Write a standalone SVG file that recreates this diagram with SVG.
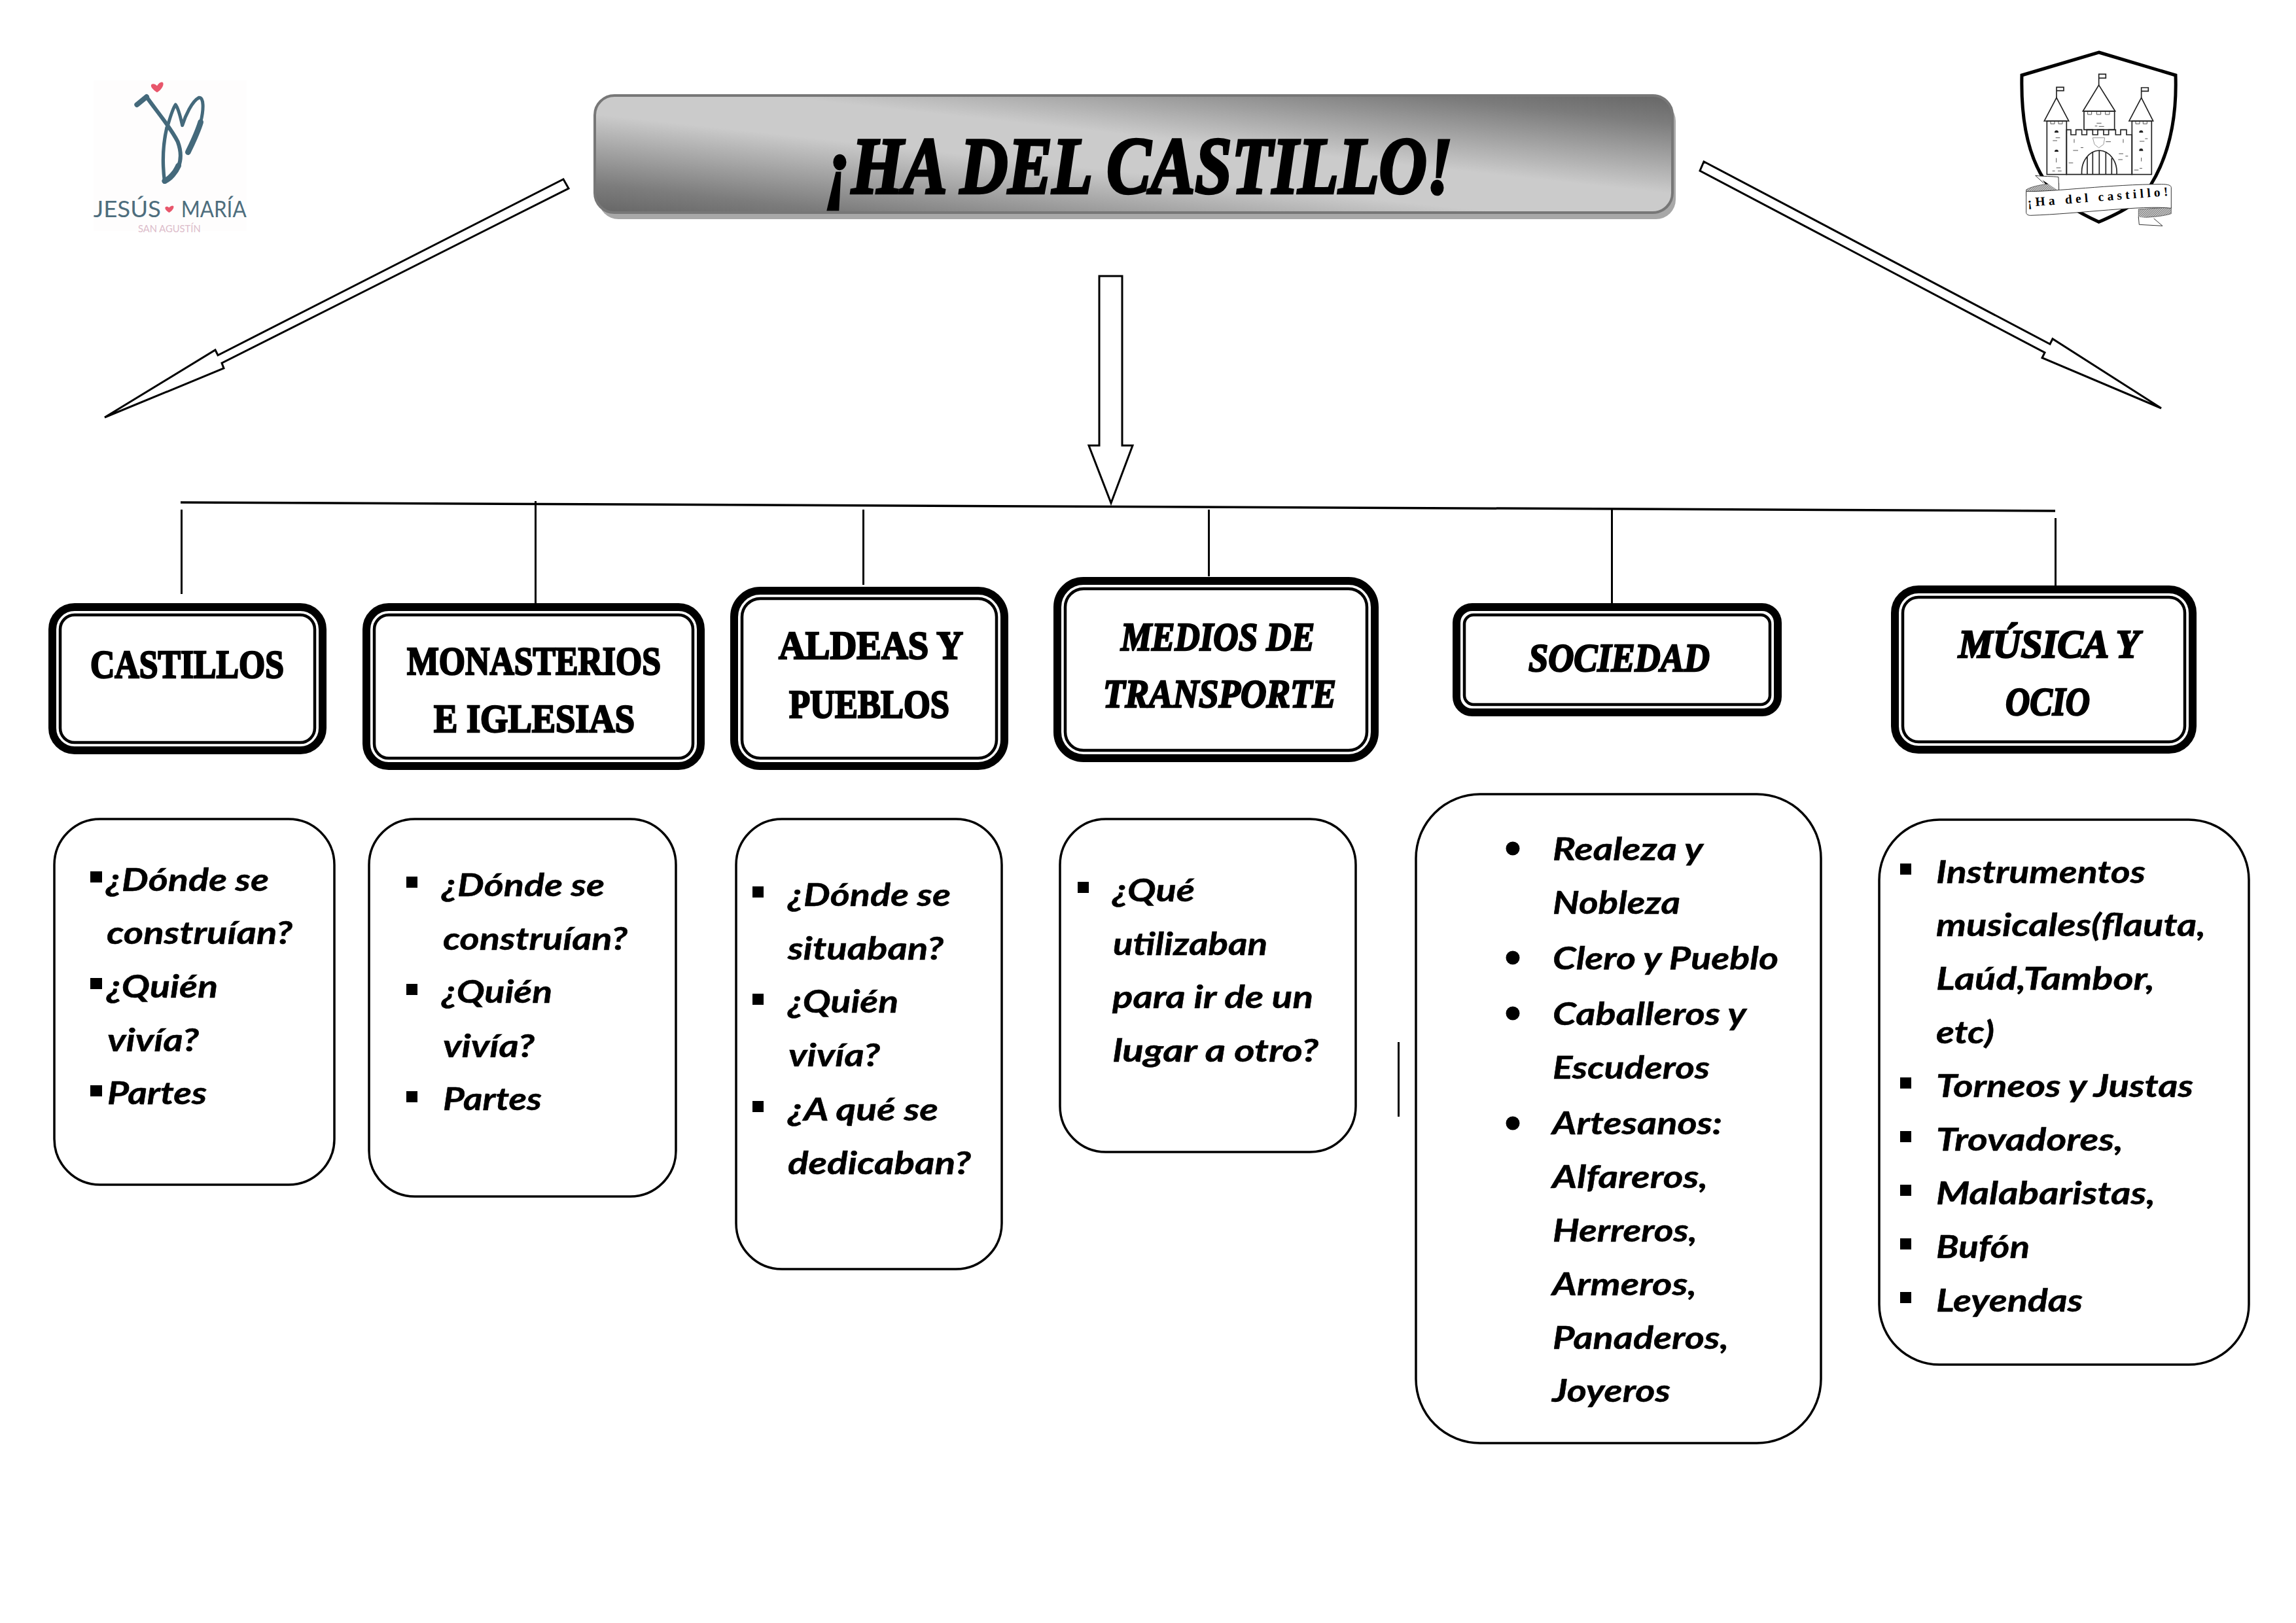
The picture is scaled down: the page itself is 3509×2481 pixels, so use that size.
<svg xmlns="http://www.w3.org/2000/svg" width="3509" height="2481" viewBox="0 0 3509 2481">
<style>
text{fill:#000}
.h{font-family:"Liberation Serif",serif;font-weight:700;font-size:62px;stroke:#000;stroke-width:2.6px}
.hi{font-style:italic}
.t{font-family:"Liberation Serif",serif;font-weight:700;font-style:italic;font-size:122px;stroke:#000;stroke-width:4.5px}
.b{font-family:Lato,"Liberation Sans",sans-serif;font-weight:700;font-style:italic;font-size:47px;stroke:#000;stroke-width:.5px}
.o{fill:#fff;stroke:#000;stroke-width:12px}
.i{fill:none;stroke:#000;stroke-width:4.5px}
.c{fill:#fff;stroke:#000;stroke-width:3.5px}
.l{fill:none;stroke:#000;stroke-width:3px}
.a{fill:#fff;stroke:#000;stroke-width:3px;stroke-linejoin:miter}
.n{fill:none;stroke:#44697b;stroke-linecap:round;stroke-linejoin:round}
.k{fill:none;stroke:#222;stroke-width:5px}
.kk{fill:none;stroke:#555;stroke-width:3px}
</style>
<defs>
<linearGradient id="g" x1="1" y1="0" x2="0" y2="1">
<stop offset="0" stop-color="#666"/><stop offset=".12" stop-color="#7c7c7c"/><stop offset=".42" stop-color="#cbcbcb"/><stop offset=".58" stop-color="#cbcbcb"/><stop offset=".88" stop-color="#7c7c7c"/><stop offset="1" stop-color="#666"/>
</linearGradient>
<pattern id="hatch" width="7" height="7" patternUnits="userSpaceOnUse" patternTransform="rotate(45)"><rect width="7" height="7" fill="#ddd"/><rect width="3.5" height="7" fill="#777"/></pattern>
</defs>
<rect width="3509" height="2481" fill="#fff"/>

<g id="connectors">
<polygon class="a" points="861,274 869,288 339,555 342,563 160,638 329,535 333,543"/>
<polygon class="a" points="1680,422 1715,422 1715,681 1731,681 1698,769 1664,681 1680,681"/>
<polygon class="a" points="2604,247 2598,261 3125,539 3121,547 3303,624 3137,518 3133,526"/>
<line x1="276" y1="768" x2="3141" y2="781" stroke="#000" stroke-width="3.5"/>
<line class="l" x1="277.5" y1="779" x2="277.5" y2="908"/>
<line class="l" x1="818.5" y1="766" x2="818.5" y2="922"/>
<line class="l" x1="1319.5" y1="779" x2="1319.5" y2="894"/>
<line class="l" x1="1847.5" y1="779" x2="1847.5" y2="881"/>
<line class="l" x1="2463.5" y1="779" x2="2463.5" y2="922"/>
<line class="l" x1="3141.5" y1="792" x2="3141.5" y2="895"/>
<line class="l" x1="2137.5" y1="1593" x2="2137.5" y2="1707"/>
</g>

<g id="logo-jesus-maria" transform="translate(80,60) scale(.3333)">
<rect x="190" y="190" width="700" height="690" fill="#fefdfd"/>
<path class="n" stroke-width="24" d="M388,300 L432,264"/>
<path class="n" stroke-width="18" d="M432,264 C470,320 540,400 575,470 C590,510 592,550 578,585"/>
<path class="n" stroke-width="16" d="M525,405 C505,490 505,580 515,655"/>
<path class="n" stroke-width="26" d="M515,650 C540,640 565,610 578,580"/>
<path class="n" stroke-width="15" d="M525,410 C540,360 550,320 565,300 C580,320 588,360 596,395 C610,350 640,285 672,268 C695,265 695,320 680,380"/>
<path class="n" stroke-width="26" d="M680,380 C665,430 640,480 622,518"/>
<path fill="#e8566b" d="M480,244 C462,232 448,218 454,208 C460,202 472,204 480,214 C488,200 502,192 508,200 C512,212 500,232 480,244Z"/>
<path fill="#e8566b" d="M535,795 C524,788 514,778 518,770 C523,765 530,767 535,772 C542,765 552,760 556,766 C558,776 548,788 535,795Z"/>
<text x="188" y="815" font-family="Lato,sans-serif" font-size="104" style="fill:#4d6d7d" textLength="310" lengthAdjust="spacingAndGlyphs">JESÚS</text>
<text x="590" y="815" font-family="Lato,sans-serif" font-size="104" style="fill:#4d6d7d" textLength="300" lengthAdjust="spacingAndGlyphs">MARÍA</text>
<text x="393" y="885" font-family="Lato,sans-serif" font-size="46" style="fill:#dcbcca" textLength="287" lengthAdjust="spacingAndGlyphs">SAN AGUSTÍN</text>
</g>

<g id="logo-castillo" transform="translate(3040,60) scale(.3333)">
<path d="M503,60 L855,165 C862,380 820,540 740,670 C680,760 590,800 503,838 C420,800 320,750 250,640 C180,530 145,380 150,165Z" fill="#fff" stroke="#000" stroke-width="15"/>
<path class="k" d="M355,620 V415 H375 V438 H398 V415 H425 V438 H448 V415 H475 V438 H498 V415 H525 V438 H548 V415 H580 V438 H603 V415 H630 V438 H655 V620Z"/>
<rect class="k" x="435" y="330" width="140" height="85" fill="#fff"/>
<path class="k" d="M430,330 L503,210 L578,330Z"/>
<path class="k" d="M503,210 V160 H535 V178 H503"/>
<rect class="k" x="265" y="375" width="90" height="245"/>
<path class="k" d="M253,375 L309,268 L365,375Z"/>
<path class="k" d="M309,268 V220 H342 V236 H309"/>
<rect class="k" x="655" y="375" width="90" height="245"/>
<path class="k" d="M642,375 L698,268 L752,375Z"/>
<path class="k" d="M698,268 V222 H730 V238 H698"/>
<path class="k" d="M425,620 C420,560 460,510 505,510 C550,510 590,560 585,620M450,540 V620M475,520 V620M505,510 V620M535,520 V620M562,545 V620"/>
<path class="kk" d="M282,378 V388 H300 V378M318,378 V388 H336 V378M452,333 V345 H470 V333M493,333 V345 H512 V333M533,333 V345 H552 V333M672,378 V388 H690 V378M706,378 V388 H724 V378"/>
<path d="M300,427 a9,9 0 0 1 18,0 V428 H300Z M300,515 a9,9 0 0 1 18,0 V516 H300Z M688,427 a9,9 0 0 1 18,0 V428 H688Z M688,510 a9,9 0 0 1 18,0 V512 H688Z" fill="#222"/>
<path class="kk" d="M305,452 H325M292,465 H312M308,590 H328M290,604 H302M315,604 H332M308,545 V565M390,458 V475M615,458 V475M385,510 H408M420,497 H432M365,567 H385M493,385 H515M503,400 H527M485,398 H496M535,470 H558M595,525 H615M592,552 H612M625,536 H637M690,468 H712M715,456 H727M665,600 H685M690,592 H702M698,543 V560"/>
<path d="M475,452 L530,452 L525,482 L503,498 L483,482Z" fill="none" stroke="#999" stroke-width="3"/>
<path d="M170,690 C200,670 280,660 320,660 L320,700 L170,720Z" fill="url(#hatch)" stroke="#333" stroke-width="2"/>
<path d="M212,625 C250,630 290,628 318,632 L320,695 M212,625 L250,660" fill="#fff" stroke="#333" stroke-width="3"/>
<path d="M685,780 L835,770 L835,800 C790,815 730,815 685,820Z" fill="url(#hatch)" stroke="#333" stroke-width="2"/>
<path d="M685,815 L688,850 L795,856 L755,822" fill="#fff" stroke="#333" stroke-width="3"/>
<path d="M170,698 C300,700 560,665 790,665 C820,665 835,670 835,680 L835,775 C700,760 420,800 190,808 C175,808 170,800 170,795Z" fill="#fff" stroke="#333" stroke-width="3"/>
<text x="178" y="768" transform="rotate(-4.5 178 768)" font-family="'Liberation Serif',serif" font-weight="700" font-size="58" textLength="645" lengthAdjust="spacing">¡Ha del castillo!</text>
</g>

<g id="title">
<rect x="915" y="155" width="1646" height="180" rx="30" fill="#a8a8a8"/>
<rect x="909" y="146" width="1647" height="179" rx="30" fill="url(#g)" stroke="#777" stroke-width="4"/>
<text class="t" x="1262" y="295" textLength="958" lengthAdjust="spacingAndGlyphs">¡HA DEL CASTILLO!</text>
</g>

<g id="head-castillos">
<rect class="o" x="80" y="928" width="413" height="219" rx="34"/>
<rect class="i" x="92" y="940" width="389" height="195" rx="22"/>
<text class="h" x="138" y="1036" textLength="296" lengthAdjust="spacingAndGlyphs">CASTILLOS</text>
</g>
<g id="head-monasterios">
<rect class="o" x="560" y="928" width="511" height="243" rx="34"/>
<rect class="i" x="572" y="940" width="487" height="219" rx="22"/>
<text class="h" x="622" y="1031" textLength="388" lengthAdjust="spacingAndGlyphs">MONASTERIOS</text>
<text class="h" x="663" y="1119" textLength="307" lengthAdjust="spacingAndGlyphs">E IGLESIAS</text>
</g>
<g id="head-aldeas">
<rect class="o" x="1122" y="903" width="413" height="268" rx="40"/>
<rect class="i" x="1134" y="915" width="389" height="244" rx="28"/>
<text class="h" x="1190" y="1007" textLength="282" lengthAdjust="spacingAndGlyphs">ALDEAS Y</text>
<text class="h" x="1206" y="1097" textLength="245" lengthAdjust="spacingAndGlyphs">PUEBLOS</text>
</g>
<g id="head-medios">
<rect class="o" x="1616" y="888" width="485" height="271" rx="40"/>
<rect class="i" x="1628" y="900" width="461" height="247" rx="28"/>
<text class="h hi" x="1713" y="994" textLength="296" lengthAdjust="spacingAndGlyphs">MEDIOS DE</text>
<text class="h hi" x="1686" y="1081" textLength="356" lengthAdjust="spacingAndGlyphs">TRANSPORTE</text>
</g>
<g id="head-sociedad">
<rect class="o" x="2226" y="928" width="491" height="161" rx="24"/>
<rect class="i" x="2238" y="940" width="467" height="137" rx="14"/>
<text class="h hi" x="2336" y="1026" textLength="277" lengthAdjust="spacingAndGlyphs">SOCIEDAD</text>
</g>
<g id="head-musica">
<rect class="o" x="2896" y="901" width="455" height="245" rx="36"/>
<rect class="i" x="2908" y="913" width="431" height="221" rx="24"/>
<text class="h hi" x="2993" y="1005" textLength="277" lengthAdjust="spacingAndGlyphs">MÚSICA Y</text>
<text class="h hi" x="3065" y="1093" textLength="129" lengthAdjust="spacingAndGlyphs">OCIO</text>
</g>

<g id="list-castillos">
<rect class="c" x="83" y="1252" width="428" height="559" rx="70"/>
<rect x="138" y="1332" width="18" height="17"/><rect x="138" y="1495" width="18" height="17"/><rect x="138" y="1659" width="18" height="17"/>
<text class="b" x="162" y="1362" textLength="249" lengthAdjust="spacingAndGlyphs">¿Dónde se</text>
<text class="b" x="163" y="1443" textLength="284" lengthAdjust="spacingAndGlyphs">construían?</text>
<text class="b" x="163" y="1525" textLength="170" lengthAdjust="spacingAndGlyphs">¿Quién</text>
<text class="b" x="164" y="1607" textLength="140" lengthAdjust="spacingAndGlyphs">vivía?</text>
<text class="b" x="164" y="1688" textLength="152" lengthAdjust="spacingAndGlyphs">Partes</text>
</g>
<g id="list-monasterios">
<rect class="c" x="564" y="1252" width="469" height="577" rx="70"/>
<rect x="621" y="1340" width="17" height="17"/><rect x="621" y="1504" width="17" height="17"/><rect x="621" y="1668" width="17" height="17"/>
<text class="b" x="675" y="1370" textLength="249" lengthAdjust="spacingAndGlyphs">¿Dónde se</text>
<text class="b" x="677" y="1452" textLength="282" lengthAdjust="spacingAndGlyphs">construían?</text>
<text class="b" x="675" y="1533" textLength="169" lengthAdjust="spacingAndGlyphs">¿Quién</text>
<text class="b" x="677" y="1616" textLength="140" lengthAdjust="spacingAndGlyphs">vivía?</text>
<text class="b" x="677" y="1697" textLength="151" lengthAdjust="spacingAndGlyphs">Partes</text>
</g>
<g id="list-aldeas">
<rect class="c" x="1125" y="1252" width="406" height="688" rx="70"/>
<rect x="1150" y="1355" width="17" height="17"/><rect x="1150" y="1519" width="17" height="17"/><rect x="1150" y="1683" width="17" height="17"/>
<text class="b" x="1204" y="1385" textLength="249" lengthAdjust="spacingAndGlyphs">¿Dónde se</text>
<text class="b" x="1204" y="1467" textLength="238" lengthAdjust="spacingAndGlyphs">situaban?</text>
<text class="b" x="1204" y="1548" textLength="169" lengthAdjust="spacingAndGlyphs">¿Quién</text>
<text class="b" x="1205" y="1630" textLength="140" lengthAdjust="spacingAndGlyphs">vivía?</text>
<text class="b" x="1204" y="1713" textLength="230" lengthAdjust="spacingAndGlyphs">¿A qué se</text>
<text class="b" x="1204" y="1795" textLength="280" lengthAdjust="spacingAndGlyphs">dedicaban?</text>
</g>
<g id="list-medios">
<rect class="c" x="1620" y="1252" width="452" height="509" rx="70"/>
<rect x="1647" y="1348" width="17" height="17"/>
<text class="b" x="1700" y="1378" textLength="126" lengthAdjust="spacingAndGlyphs">¿Qué</text>
<text class="b" x="1701" y="1460" textLength="236" lengthAdjust="spacingAndGlyphs">utilizaban</text>
<text class="b" x="1700" y="1541" textLength="307" lengthAdjust="spacingAndGlyphs">para ir de un</text>
<text class="b" x="1701" y="1623" textLength="314" lengthAdjust="spacingAndGlyphs">lugar a otro?</text>
</g>
<g id="list-sociedad">
<rect class="c" x="2164" y="1214" width="619" height="992" rx="98"/>
<ellipse cx="2312" cy="1297" rx="10.5" ry="10.5"/><ellipse cx="2312" cy="1464" rx="10.5" ry="10.5"/><ellipse cx="2312" cy="1549" rx="10.5" ry="10.5"/><ellipse cx="2312" cy="1717" rx="10.5" ry="10.5"/>
<text class="b" x="2373" y="1315" textLength="230" lengthAdjust="spacingAndGlyphs">Realeza y</text>
<text class="b" x="2373" y="1397" textLength="195" lengthAdjust="spacingAndGlyphs">Nobleza</text>
<text class="b" x="2373" y="1482" textLength="345" lengthAdjust="spacingAndGlyphs">Clero y Pueblo</text>
<text class="b" x="2373" y="1567" textLength="296" lengthAdjust="spacingAndGlyphs">Caballeros y</text>
<text class="b" x="2373" y="1649" textLength="240" lengthAdjust="spacingAndGlyphs">Escuderos</text>
<text class="b" x="2372" y="1734" textLength="260" lengthAdjust="spacingAndGlyphs">Artesanos:</text>
<text class="b" x="2372" y="1816" textLength="238" lengthAdjust="spacingAndGlyphs">Alfareros,</text>
<text class="b" x="2373" y="1898" textLength="221" lengthAdjust="spacingAndGlyphs">Herreros,</text>
<text class="b" x="2372" y="1980" textLength="221" lengthAdjust="spacingAndGlyphs">Armeros,</text>
<text class="b" x="2373" y="2062" textLength="269" lengthAdjust="spacingAndGlyphs">Panaderos,</text>
<text class="b" x="2372" y="2143" textLength="181" lengthAdjust="spacingAndGlyphs">Joyeros</text>
</g>
<g id="list-musica">
<rect class="c" x="2872" y="1253" width="565" height="833" rx="92"/>
<rect x="2904" y="1320" width="17" height="17"/><rect x="2904" y="1647" width="17" height="17"/><rect x="2904" y="1729" width="17" height="17"/><rect x="2904" y="1811" width="17" height="17"/><rect x="2904" y="1893" width="17" height="17"/><rect x="2904" y="1975" width="17" height="17"/>
<text class="b" x="2959" y="1350" textLength="320" lengthAdjust="spacingAndGlyphs">Instrumentos</text>
<text class="b" x="2959" y="1431" textLength="412" lengthAdjust="spacingAndGlyphs">musicales(flauta,</text>
<text class="b" x="2959" y="1513" textLength="334" lengthAdjust="spacingAndGlyphs">Laúd,Tambor,</text>
<text class="b" x="2959" y="1595" textLength="89" lengthAdjust="spacingAndGlyphs">etc)</text>
<text class="b" x="2959" y="1677" textLength="393" lengthAdjust="spacingAndGlyphs">Torneos y Justas</text>
<text class="b" x="2959" y="1759" textLength="286" lengthAdjust="spacingAndGlyphs">Trovadores,</text>
<text class="b" x="2959" y="1841" textLength="335" lengthAdjust="spacingAndGlyphs">Malabaristas,</text>
<text class="b" x="2959" y="1923" textLength="143" lengthAdjust="spacingAndGlyphs">Bufón</text>
<text class="b" x="2959" y="2005" textLength="224" lengthAdjust="spacingAndGlyphs">Leyendas</text>
</g>
</svg>
